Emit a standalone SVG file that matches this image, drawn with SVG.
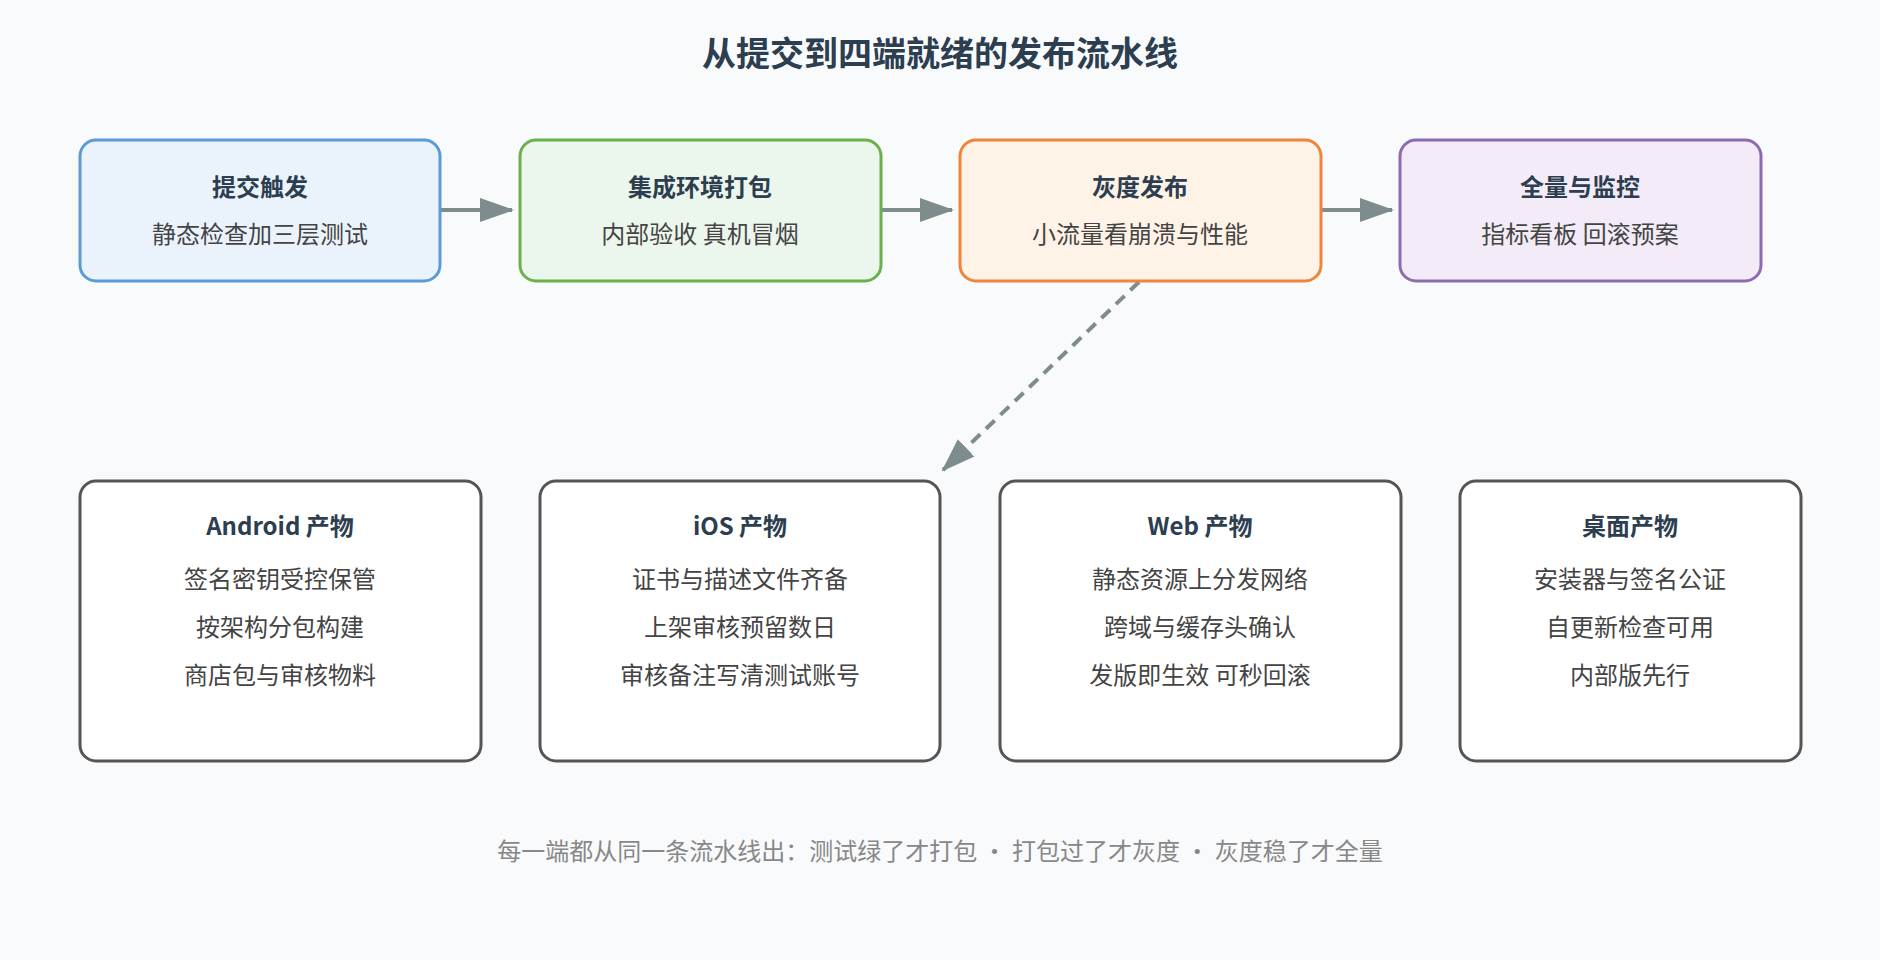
<svg xmlns="http://www.w3.org/2000/svg" width="1880" height="960" viewBox="0 0 1880 960">
<style>
text{font-family:"Noto Sans CJK SC","Noto Sans",sans-serif;text-anchor:middle}
.t{font-size:34px;font-weight:bold;fill:#2c3e50}
.h{font-size:24px;font-weight:bold;fill:#2c3e50}
.b{font-size:24px;fill:#444}
.f{font-size:24px;fill:#888}
.s{stroke-width:3;rx:16}
.p{fill:#fff;stroke:#555;stroke-width:3}
.c{stroke:#7f8c8d;stroke-width:4;fill:none}
</style>
<defs><marker id="a" markerWidth="10" markerHeight="10" refX="8" refY="5" orient="auto" markerUnits="userSpaceOnUse" viewBox="0 0 10 10"><path d="M0,0L10,5L0,10z" fill="#7f8c8d"/></marker>
<marker id="m" markerWidth="34" markerHeight="24" refX="32" refY="12" orient="auto" markerUnits="userSpaceOnUse"><path d="M0,0L34,12L0,24z" fill="#7f8c8d"/></marker></defs>
<rect width="1880" height="960" fill="#f8fafc"/>
<text class="t" x="940" y="66">从提交到四端就绪的发布流水线</text>
<g id="connectors">
<line class="c" x1="441" y1="210" x2="512" y2="210" marker-end="url(#m)"/>
<line class="c" x1="882" y1="210" x2="952" y2="210" marker-end="url(#m)"/>
<line class="c" x1="1322" y1="210" x2="1392" y2="210" marker-end="url(#m)"/>
<line class="c" x1="1139" y1="282" x2="943" y2="470" stroke-dasharray="12,8" marker-end="url(#m)"/>
</g>
<g id="n1"><rect x="80" y="140" width="360" height="141" rx="16" fill="#eaf3fc" stroke="#5b9bd5" stroke-width="3"/><text class="h" x="260" y="196">提交触发</text><text class="b" x="260" y="243">静态检查加三层测试</text></g>
<g id="n2"><rect x="520" y="140" width="361" height="141" rx="16" fill="#ebf6ec" stroke="#6ab04c" stroke-width="3"/><text class="h" x="700" y="196">集成环境打包</text><text class="b" x="700" y="243">内部验收 真机冒烟</text></g>
<g id="n3"><rect x="960" y="140" width="361" height="141" rx="16" fill="#fef3e6" stroke="#f0843a" stroke-width="3"/><text class="h" x="1140" y="196">灰度发布</text><text class="b" x="1140" y="243">小流量看崩溃与性能</text></g>
<g id="n4"><rect x="1400" y="140" width="361" height="141" rx="16" fill="#f3ecf8" stroke="#8e6bb0" stroke-width="3"/><text class="h" x="1580" y="196">全量与监控</text><text class="b" x="1580" y="243">指标看板 回滚预案</text></g>
<g id="p1"><rect class="p" x="80" y="481" width="401" height="280" rx="16"/><text class="h" x="280" y="535">Android 产物</text><text class="b" x="280" y="588">签名密钥受控保管</text><text class="b" x="280" y="636">按架构分包构建</text><text class="b" x="280" y="684">商店包与审核物料</text></g>
<g id="p2"><rect class="p" x="540" y="481" width="400" height="280" rx="16"/><text class="h" x="740" y="535">iOS 产物</text><text class="b" x="740" y="588">证书与描述文件齐备</text><text class="b" x="740" y="636">上架审核预留数日</text><text class="b" x="740" y="684">审核备注写清测试账号</text></g>
<g id="p3"><rect class="p" x="1000" y="481" width="401" height="280" rx="16"/><text class="h" x="1200" y="535">Web 产物</text><text class="b" x="1200" y="588">静态资源上分发网络</text><text class="b" x="1200" y="636">跨域与缓存头确认</text><text class="b" x="1200" y="684">发版即生效 可秒回滚</text></g>
<g id="p4"><rect class="p" x="1460" y="481" width="341" height="280" rx="16"/><text class="h" x="1630" y="535">桌面产物</text><text class="b" x="1630" y="588">安装器与签名公证</text><text class="b" x="1630" y="636">自更新检查可用</text><text class="b" x="1630" y="684">内部版先行</text></g>
<text class="f" x="940" y="860">每一端都从同一条流水线出：测试绿了才打包 · 打包过了才灰度 · 灰度稳了才全量</text>
</svg>
